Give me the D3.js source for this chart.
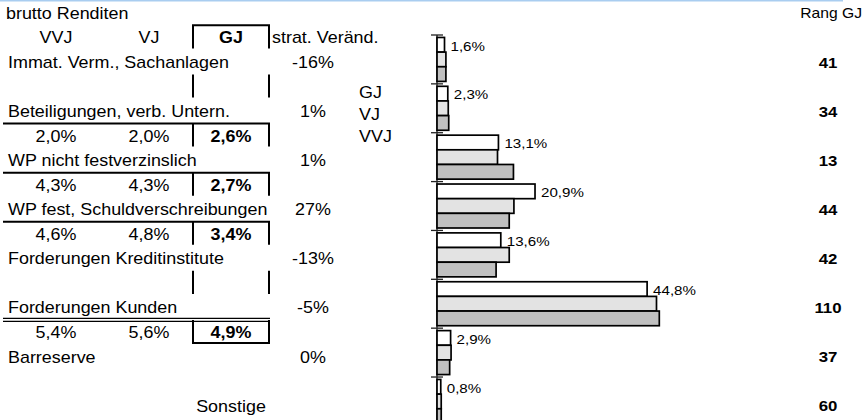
<!DOCTYPE html>
<html><head><meta charset="utf-8">
<script src="https://cdn.jsdelivr.net/npm/d3@7"></script>
<style>html,body{margin:0;padding:0;background:#fff;overflow:hidden}</style>
</head><body>
<svg id="c" width="868" height="420"></svg>
<script>
// ---------- data ----------
const categories = ["Immat. Verm., Sachanlagen","Beteiligungen, verb. Untern.","WP nicht festverzinslich","WP fest, Schuldverschreibungen","Forderungen Kreditinstitute","Forderungen Kunden","Barreserve","Sonstige"];
const seriesNames = ["GJ","VJ","VVJ"];
const shareGJ  = [1.6, 2.3, 13.1, 20.9, 13.6, 44.8, 2.9, 0.8];
const shareVJ  = [1.9, 2.4, 12.9, 16.4, 15.4, 46.8, 3.0, 0.9];
const shareVVJ = [1.9, 2.5, 16.3, 15.4, 12.6, 47.4, 2.7, 0.9];
const stratChange = ["-16%","1%","1%","27%","-13%","-5%","0%",""];
const rankGJ = [41, 34, 13, 44, 42, 110, 37, 60];
const headerCols = ["VVJ","VJ","GJ"];
const yieldVVJ = [null, 2.0, 4.3, 4.6, null, 5.4, null, null];
const yieldVJ  = [null, 2.0, 4.3, 4.8, null, 5.6, null, null];
const yieldGJ  = [null, 2.6, 2.7, 3.4, null, 4.9, null, null];
const boxRows  = [true, true, true, true, true, true, false, false];
const titleText = "brutto Renditen";
const stratTitle = "strat. Veränd.";
const rankTitle = "Rang GJ";

// ---------- setup ----------
const svg = d3.select("#c");
const FONT = "'Liberation Sans', Arial, Helvetica, sans-serif";
const SX = 1.12;
const loc = d3.formatLocale({decimal: ",", thousands: ".", grouping: [3], currency: ["", "€"]});
const f1 = loc.format(".1f");
const pct = v => f1(v) + "%";

function T(x, y, s, o = {}) {
  const size = o.size || 16;
  svg.append("text")
    .attr("transform", `translate(${x},${y + 0.358 * size}) scale(${o.sx || SX},1)`)
    .attr("text-anchor", o.anchor || "start")
    .attr("font-family", FONT)
    .attr("font-size", size)
    .attr("font-weight", o.weight || "normal")
    .attr("fill", "#000")
    .text(s);
}
function L(x1, y1, x2, y2, w = 2) {
  svg.append("line").attr("x1", x1).attr("y1", y1).attr("x2", x2).attr("y2", y2)
    .attr("stroke", "#000").attr("stroke-width", w);
}

// top blue rule
svg.append("rect").attr("x", 0).attr("y", 0).attr("width", 843).attr("height", 1.5).attr("fill", "#a9cdf0");

// ---------- table ----------
const rowPitch = 24.55;
const rowTop = i => 0.8 + i * rowPitch;
const rowMid = i => rowTop(i) + rowPitch / 2;
const colX = [56, 149, 231];
const boxL = 193, boxR = 269;
const stratX = 313;

T(6, rowMid(0), titleText);
T(862, rowMid(0), rankTitle, {anchor: "end", size: 14});

// header
headerCols.forEach((h, j) => T(colX[j], rowMid(1), h, {anchor: "middle", weight: j === 2 ? "bold" : "normal"}));
T(272, rowMid(1), stratTitle);
L(boxL - 1, rowTop(1), boxR + 1, rowTop(1));
L(boxL, rowTop(1), boxL, rowTop(2) - 1.5);
L(boxR, rowTop(1), boxR, rowTop(2) - 1.5);

categories.forEach((c, k) => {
  const r = 2 + 2 * k;
  if (k === categories.length - 1) {
    T(colX[2], rowMid(r), c, {anchor: "middle"});
  } else {
    T(8, rowMid(r), c);
  }
  if (stratChange[k]) T(stratX, rowMid(r), stratChange[k], {anchor: "middle"});
  T(828, rowMid(r), String(rankGJ[k]), {anchor: "middle", weight: "bold", size: 15});

  const rr = r + 1;
  if (yieldGJ[k] != null) {
    T(colX[0], rowMid(rr), pct(yieldVVJ[k]), {anchor: "middle"});
    T(colX[1], rowMid(rr), pct(yieldVJ[k]), {anchor: "middle"});
    T(colX[2], rowMid(rr), pct(yieldGJ[k]), {anchor: "middle", weight: "bold"});
    if (k === 5) {
      L(3, rowTop(rr) - 1.5, boxR + 1, rowTop(rr) - 1.5, 1.3);
      L(3, rowTop(rr) + 1.5, boxR + 1, rowTop(rr) + 1.5, 1.3);
      L(boxL - 1, rowTop(rr + 1) - 1.5, boxR + 1, rowTop(rr + 1) - 1.5);
    } else {
      L(3, rowTop(rr), boxR + 1, rowTop(rr));
    }
  }
  if (boxRows[k]) {
    L(boxL, rowTop(rr), boxL, rowTop(rr + 1) - 1.5);
    L(boxR, rowTop(rr), boxR, rowTop(rr + 1) - 1.5);
  }
});

// ---------- bars ----------
const x0 = 437;
const x = d3.scaleLinear().domain([0, 50]).range([x0, x0 + 234.5]);
const y = d3.scaleBand().domain(categories).range([35, 35 + 8 * 48.86]).padding(0);
const sub = d3.scaleBand().domain(seriesNames).range([0, y.bandwidth()]).paddingInner(0).paddingOuter(1 / 6);
const fills = {GJ: "#ffffff", VJ: "#e3e3e3", VVJ: "#c0c0c0"};
const rows = categories.map((c, i) => ({c, GJ: shareGJ[i], VJ: shareVJ[i], VVJ: shareVVJ[i]}));

// axis line + ticks at band boundaries
L(x0, y(categories[0]), x0, 420, 1.2);
svg.selectAll("line.tk").data(categories).join("line").attr("class", "tk")
  .attr("x1", x0 - 6).attr("x2", x0 + 6)
  .attr("y1", d => y(d)).attr("y2", d => y(d))
  .attr("stroke", "#222").attr("stroke-width", 1.3);

const g = svg.selectAll("g.cat").data(rows).join("g").attr("class", "cat")
  .attr("transform", d => `translate(0,${y(d.c)})`);
g.selectAll("rect").data(d => seriesNames.map(s => ({s, v: d[s]}))).join("rect")
  .attr("x", x(0)).attr("y", d => sub(d.s))
  .attr("width", d => x(d.v) - x(0)).attr("height", sub.bandwidth())
  .attr("fill", d => fills[d.s]).attr("stroke", "#000").attr("stroke-width", 1.7);

g.append("text")
  .attr("transform", d => `translate(${x(d.GJ) + 6},${sub("GJ") + sub.bandwidth() / 2 + 1 + 0.358 * 13.5}) scale(${SX},1)`)
  .attr("font-family", FONT).attr("font-size", 13.5).attr("fill", "#000")
  .text(d => pct(d.GJ));

// legend
seriesNames.forEach((s, j) => T(359, 92 + j * 22, s));
</script>
</body></html>
